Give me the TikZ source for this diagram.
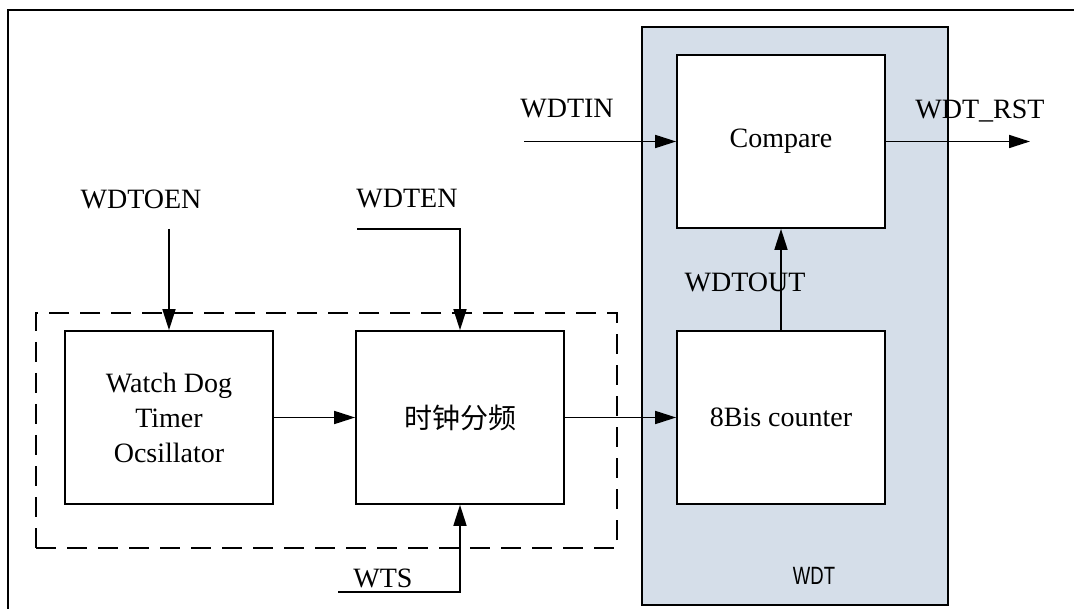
\documentclass[tikz,border=0pt]{standalone}
\usepackage{graphicx}
\usepackage{fontspec}
\setmainfont{Liberation Serif}
\newfontfamily\cjkfont{Noto Sans CJK SC}
\newfontfamily\tagfont{Liberation Sans}
\usetikzlibrary{arrows.meta}
\definecolor{wdtgray}{RGB}{213,222,233}
\tikzset{
  wire/.style={black,line width=1.7pt},
  flow/.style={wire,-{Triangle[length=21pt,width=13pt]}},
  block/.style={draw=black,line width=1.7pt,fill=white,minimum width=208pt,
                minimum height=173pt,inner sep=0pt,align=center,
                font=\fontsize{28}{35}\selectfont},
  lab/.style={anchor=base,inner sep=0pt,font=\fontsize{28}{35}\selectfont},
  group/.style={draw=black,line width=1.7pt,dash pattern=on 20pt off 11pt},
}

\begin{document}
\begin{tikzpicture}[x=1pt,y=-1pt]
  \useasboundingbox (0,0) rectangle (1074,609);
  \draw[line width=2pt] (8,609) |- (1074,10);

  \node[draw=black,line width=2pt,fill=wdtgray,minimum width=306pt,
        minimum height=578pt] (wdt) at (795,316) {};
  \node[font=\tagfont\fontsize{25}{30}\selectfont] (wdtname) at (814,576)
    {\scalebox{0.74}[1]{WDT}};
  \node[group,minimum width=581pt,minimum height=235pt] (osczone) at (326.5,430.5) {};

  \node[block] (osc) at (169,417.5) {Watch Dog\\Timer\\Ocsillator};
  \node[block] (divider) at (460,417.5) {\cjkfont 时钟分频};
  \node[block] (counter) at (781,417.5) {8Bis counter};
  \node[block] (compare) at (781,141.5) {Compare};

  \node[lab] (oenlab) at (141,209) {WDTOEN};
  \node[lab] (enlab) at (407,208) {WDTEN};
  \node[lab] (wtslab) at (383,587) {WTS};
  \node[lab] (inlab) at (567,118) {WDTIN};
  \node[lab] (rstlab) at (980,119) {WDT\_RST};
  \node[lab] (outlab) at (745,292) {WDTOUT};

  \coordinate (oen) at (169,229);
  \coordinate (en) at (357,229);
  \coordinate (wts) at (338,592);
  \coordinate (din) at (524,141.5);
  \coordinate (rst) at (1030,141.5);

  \draw[flow] (oen) -- (osc.north);
  \draw[flow] (en) -| (divider.north);
  \draw[flow] (wts) -| (divider.south);
  \draw[flow] (osc) -- (divider);
  \draw[flow] (divider) -- (counter);
  \draw[flow] (counter) -- (compare);
  \draw[flow] (din) -- (compare.west);
  \draw[flow] (compare.east) -- (rst);
\end{tikzpicture}
\end{document}
